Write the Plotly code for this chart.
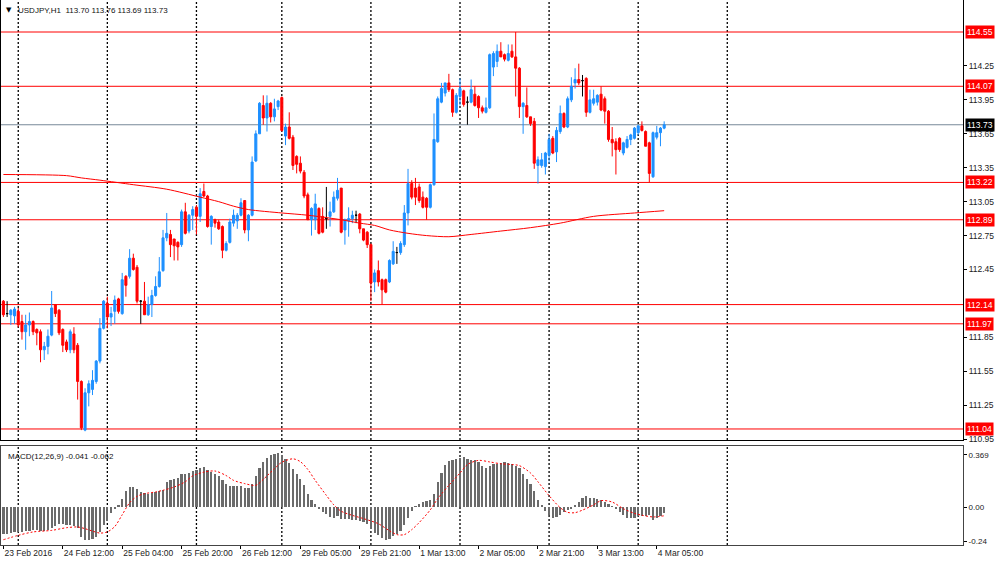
import plotly.graph_objects as go
from plotly.subplots import make_subplots

# ---------------- data ----------------
symbol = "USDJPY,H1"
tick_idx = [0, 16, 32, 48, 64, 80, 96, 112, 128, 144, 160, 176]
tick_text = ["23 Feb 2016", "24 Feb 12:00", "25 Feb 04:00", "25 Feb 20:00", "26 Feb 12:00",
             "29 Feb 05:00", "29 Feb 21:00", "1 Mar 13:00", "2 Mar 05:00", "2 Mar 21:00",
             "3 Mar 13:00", "4 Mar 05:00"]
day_start_idx = [4, 28, 52, 75, 99, 123, 147, 171, 195]

opens = [112.17,112.06,112.05,112.04,112.08,111.99,111.90,111.96,111.99,111.92,
         111.90,111.74,111.77,111.87,112.14,112.09,111.92,111.81,111.74,111.88,
         111.78,111.46,111.03,111.36,111.39,111.46,111.64,111.93,112.15,112.03,
         112.08,112.19,112.06,112.39,112.39,112.55,112.47,112.17,112.17,112.05,
         112.14,112.22,112.30,112.44,112.73,112.76,112.72,112.69,112.67,112.96,
         112.79,112.93,113.00,112.92,113.14,113.10,112.83,112.89,112.87,112.83,
         112.62,112.69,112.86,112.88,112.93,113.06,112.80,112.93,113.41,113.65,
         113.90,113.79,113.92,113.80,113.89,113.97,113.63,113.71,113.62,113.45,
         113.39,113.31,113.11,112.89,112.89,112.99,112.92,112.90,112.92,112.96,
         113.08,113.17,112.80,112.88,112.90,112.93,112.94,112.81,112.78,112.67,
         112.34,112.44,112.36,112.36,112.34,112.50,112.60,112.60,112.67,112.95,
         113.21,113.17,113.18,113.09,113.08,113.00,113.20,113.58,113.93,114.01,
         114.10,114.04,113.84,113.98,114.03,113.93,113.93,114.00,113.98,113.88,
         113.84,113.88,114.24,114.29,114.38,114.35,114.30,114.38,114.33,114.23,
         113.89,113.90,113.80,113.76,113.37,113.37,113.36,113.46,113.61,113.49,
         113.67,113.83,113.71,113.95,114.10,114.13,114.12,114.14,113.84,113.92,
         113.93,114.00,113.96,113.85,113.60,113.58,113.61,113.48,113.53,113.60,
         113.61,113.66,113.72,113.67,113.57,113.27,113.62,113.66,113.70]
highs = [112.18,112.17,112.10,112.12,112.11,112.05,112.05,112.07,112.00,111.93,
         111.92,111.81,111.92,112.26,112.14,112.10,111.93,111.83,111.92,111.94,
         111.80,111.47,111.40,111.47,111.56,111.65,112.02,112.18,112.21,112.12,
         112.22,112.20,112.42,112.40,112.63,112.59,112.49,112.18,112.34,112.21,
         112.27,112.39,112.56,112.80,112.95,112.80,112.72,112.70,112.98,113.04,
         112.94,113.01,113.02,113.17,113.21,113.11,112.93,112.90,112.89,112.84,
         112.70,112.90,112.98,112.95,113.08,113.06,112.94,113.45,113.68,113.93,
         113.99,113.99,113.93,113.96,113.95,113.98,113.74,113.84,113.64,113.46,
         113.45,113.33,113.13,113.00,113.12,113.00,113.00,113.18,113.05,113.14,
         113.26,113.17,112.90,113.00,112.97,112.97,112.95,112.81,112.79,112.68,
         112.45,112.53,112.37,112.37,112.54,112.70,112.65,112.70,113.02,113.34,
         113.24,113.26,113.21,113.14,113.09,113.21,113.83,113.98,114.10,114.10,
         114.18,114.05,114.01,114.14,114.04,113.98,114.13,114.07,113.99,113.90,
         113.97,114.36,114.38,114.44,114.46,114.36,114.44,114.44,114.55,114.24,
         113.93,114.06,113.80,113.79,113.45,113.48,113.49,113.65,113.63,113.71,
         113.90,113.84,113.98,114.15,114.23,114.27,114.17,114.15,114.04,114.04,
         114.00,114.07,113.98,113.86,113.71,113.61,113.62,113.58,113.63,113.65,
         113.71,113.73,113.76,113.68,113.58,113.67,113.72,113.71,113.76]
lows = [112.03,112.03,111.96,111.97,111.94,111.83,111.74,111.86,111.87,111.78,
        111.63,111.65,111.70,111.86,112.03,111.87,111.72,111.72,111.71,111.71,
        111.30,111.03,111.02,111.24,111.34,111.44,111.62,111.92,111.93,111.95,
        111.97,112.06,112.05,112.21,112.37,112.44,112.15,111.97,112.05,112.04,
        112.03,112.21,112.29,112.43,112.70,112.56,112.53,112.53,112.65,112.76,
        112.77,112.80,112.76,112.87,113.09,112.82,112.67,112.82,112.80,112.55,
        112.61,112.68,112.83,112.81,112.92,112.77,112.70,112.92,113.40,113.65,
        113.73,113.67,113.75,113.76,113.86,113.67,113.55,113.60,113.33,113.30,
        113.30,113.08,112.89,112.75,112.80,112.76,112.77,112.81,112.83,112.95,
        113.06,112.77,112.67,112.74,112.86,112.86,112.77,112.70,112.64,112.17,
        112.25,112.30,112.14,112.24,112.33,112.49,112.50,112.58,112.65,112.84,
        113.07,113.02,113.04,112.99,112.89,112.99,113.19,113.57,113.92,113.98,
        114.02,113.80,113.83,113.90,113.89,113.73,113.92,113.89,113.79,113.83,
        113.83,113.87,114.16,114.24,114.33,114.29,114.29,114.32,113.98,113.79,
        113.65,113.79,113.72,113.34,113.21,113.35,113.29,113.39,113.47,113.40,
        113.65,113.70,113.70,113.93,114.05,114.08,113.98,113.80,113.83,113.90,
        113.90,113.85,113.74,113.58,113.45,113.29,113.49,113.46,113.52,113.55,
        113.60,113.64,113.67,113.54,113.22,113.26,113.60,113.54,113.69]
closes = [112.05,112.06,112.09,112.10,111.96,111.90,111.96,111.99,111.90,111.89,
          111.74,111.77,111.86,112.11,112.06,111.89,111.78,111.74,111.90,111.74,
          111.46,111.05,111.36,111.44,111.47,111.64,111.93,112.17,112.03,112.06,
          112.18,112.08,112.36,112.31,112.55,112.45,112.17,112.17,112.05,112.14,
          112.22,112.30,112.43,112.73,112.77,112.67,112.66,112.65,112.96,112.77,
          112.93,112.98,112.92,113.12,113.10,112.83,112.92,112.86,112.81,112.62,
          112.68,112.87,112.93,112.93,113.04,112.80,112.93,113.40,113.65,113.92,
          113.79,113.92,113.80,113.87,113.94,113.68,113.71,113.61,113.37,113.38,
          113.32,113.10,112.89,112.99,113.03,112.77,112.78,112.90,112.96,113.09,
          113.15,112.78,112.89,112.90,112.93,112.93,112.81,112.71,112.67,112.33,
          112.42,112.34,112.27,112.25,112.53,112.61,112.60,112.68,112.95,113.21,
          113.09,113.09,113.06,113.00,113.00,113.20,113.60,113.96,114.05,114.10,
          114.04,113.84,113.99,114.05,113.91,113.93,114.04,113.90,113.88,113.85,
          113.88,114.35,114.36,114.38,114.33,114.31,114.36,114.33,114.23,113.89,
          113.92,113.80,113.74,113.39,113.42,113.42,113.48,113.60,113.48,113.68,
          113.83,113.71,113.96,114.07,114.13,114.10,114.12,113.84,113.95,113.96,
          113.99,113.86,113.85,113.60,113.57,113.51,113.51,113.57,113.60,113.64,
          113.70,113.72,113.68,113.54,113.30,113.66,113.66,113.70,113.73]

ma_idx = [0, 17, 21, 26, 35, 44, 53, 58, 62, 66, 75, 82, 91, 96, 100, 104, 109, 114,
          120, 126, 134, 142, 150, 159, 170, 178]
ma_val = [113.29, 113.28, 113.26, 113.24, 113.20, 113.16, 113.09, 113.05, 113.01, 112.98,
          112.95, 112.93, 112.89, 112.86, 112.84, 112.80, 112.77, 112.75, 112.74, 112.76,
          112.79, 112.82, 112.86, 112.92, 112.95, 112.97]

macd_hist = [-0.193,-0.188,-0.184,-0.179,-0.176,-0.174,-0.169,-0.167,-0.165,-0.165,
             -0.169,-0.169,-0.160,-0.148,-0.134,-0.122,-0.122,-0.129,-0.129,-0.136,
             -0.146,-0.212,-0.231,-0.235,-0.224,-0.212,-0.176,-0.129,-0.099,-0.042,
             -0.012,0.012,0.059,0.113,0.141,0.141,0.129,0.106,0.099,0.094,
             0.099,0.106,0.113,0.122,0.176,0.193,0.200,0.207,0.235,0.235,
             0.240,0.252,0.259,0.273,0.282,0.264,0.247,0.231,0.216,0.188,
             0.160,0.151,0.148,0.146,0.146,0.136,0.136,0.165,0.216,0.278,
             0.318,0.348,0.365,0.372,0.381,0.365,0.341,0.311,0.271,0.235,
             0.200,0.153,0.089,0.047,0.019,-0.012,-0.035,-0.052,-0.071,-0.075,
             -0.066,-0.082,-0.085,-0.087,-0.094,-0.094,-0.099,-0.106,-0.118,-0.153,
             -0.184,-0.200,-0.216,-0.235,-0.226,-0.207,-0.188,-0.169,-0.129,-0.075,
             -0.028,0.002,0.024,0.033,0.040,0.047,0.094,0.176,0.240,0.294,
             0.325,0.329,0.339,0.348,0.353,0.341,0.334,0.329,0.320,0.287,
             0.278,0.287,0.301,0.306,0.311,0.315,0.311,0.306,0.292,0.278,
             0.235,0.200,0.165,0.113,0.052,0.009,-0.028,-0.059,-0.075,-0.071,
             -0.059,-0.038,-0.024,-0.012,0.012,0.035,0.066,0.075,0.066,0.061,
             0.059,0.047,0.033,0.019,0.005,-0.012,-0.033,-0.059,-0.075,-0.080,
             -0.075,-0.066,-0.061,-0.061,-0.059,-0.094,-0.080,-0.066,-0.041]

sig_idx = [0, 4, 8, 13, 17, 20, 22, 24, 26, 28, 30, 32, 34, 36, 38, 41, 43, 46, 49, 51,
           54, 57, 60, 62, 65, 68, 70, 73, 75, 78, 80, 82, 84, 87, 89, 91, 94, 97, 101, 104,
           106, 108, 110, 112, 115, 117, 120, 123, 125, 128, 131, 134, 137, 139, 142, 144,
           147, 150, 152, 154, 156, 159, 161, 164, 167, 170, 172, 175, 178]
sig_val = [-0.231, -0.200, -0.176, -0.165, -0.146, -0.141, -0.153, -0.170, -0.184, -0.176,
           -0.138, -0.055, 0.030, 0.075, 0.094, 0.106, 0.118, 0.141, 0.178, 0.220,
           0.246, 0.254, 0.222, 0.188, 0.165, 0.153, 0.195, 0.270, 0.316, 0.340,
           0.320, 0.265, 0.188, 0.082, 0.015, -0.030, -0.059, -0.082, -0.118, -0.168,
           -0.195, -0.195, -0.160, -0.110, -0.020, 0.059, 0.153, 0.240, 0.300, 0.329,
           0.318, 0.305, 0.300, 0.292, 0.240, 0.178, 0.080, -0.005, -0.038, -0.040,
           -0.022, 0.015, 0.045, 0.035, -0.012, -0.045, -0.058, -0.070, -0.062]

levels = [114.55, 114.07, 113.22, 112.89, 112.14, 111.97, 111.04]
last_price = 113.73
price_ticks = [110.95, 111.25, 111.55, 111.85, 112.45, 112.75, 113.05, 113.35, 113.65, 113.95, 114.25]
macd_ticks = [0.369, 0.0, -0.24]
macd_tick_text = ["0.369", "0.00", "-0.24"]

# ---------------- layout geometry ----------------
W, H = 1000, 564
ML, MR, MT, MB = 1, 37, 0, 19
PW = W - ML - MR
PH = H - MT - MB
FONT = "Liberation Sans, Arial, sans-serif"


def pxx(px):
    return (px - ML) / PW


def pxy(py):
    return (H - MB - py) / PH


fig = make_subplots(rows=2, cols=1, shared_xaxes=True)

xs = list(range(len(opens)))
up = [i for i in xs if closes[i] > opens[i]]
dn = [i for i in xs if closes[i] < opens[i]]
dj = [i for i in xs if closes[i] == opens[i]]


def sub(arr, idx):
    return [arr[i] for i in idx]


for idx, col in ((up, "#1E90FF"), (dn, "#FF0000"), (dj, "#000000")):
    fig.add_trace(go.Candlestick(
        x=idx, open=sub(opens, idx), high=sub(highs, idx), low=sub(lows, idx), close=sub(closes, idx),
        increasing=dict(line=dict(color=col, width=1), fillcolor=col),
        decreasing=dict(line=dict(color=col, width=1), fillcolor=col),
        whiskerwidth=0, showlegend=False, hoverinfo="skip"), row=1, col=1)

fig.add_trace(go.Scatter(x=ma_idx, y=ma_val, mode="lines",
                         line=dict(color="#FF0000", width=1, shape="spline", smoothing=0.8),
                         showlegend=False, hoverinfo="skip"), row=1, col=1)

fig.add_trace(go.Bar(x=xs, y=macd_hist, marker=dict(color="#6b6b6b", line=dict(width=0)),
                     width=0.6, showlegend=False, hoverinfo="skip"), row=2, col=1)
fig.add_trace(go.Scatter(x=sig_idx, y=sig_val, mode="lines",
                         line=dict(color="#FF0000", width=1, dash="2px,2px", shape="spline", smoothing=0.8),
                         showlegend=False, hoverinfo="skip"), row=2, col=1)

shapes = []
for d in day_start_idx:
    for xr, yr in (("x", "y domain"), ("x2", "y2 domain")):
        shapes.append(dict(type="line", xref=xr, yref=yr, x0=d, x1=d, y0=0, y1=1,
                           line=dict(color="black", width=1.3, dash="2px,2px"), layer="below"))
for lv in levels:
    shapes.append(dict(type="line", xref="x domain", yref="y", x0=0, x1=1, y0=lv, y1=lv,
                       line=dict(color="#FF0000", width=1), layer="below"))
shapes.append(dict(type="line", xref="x domain", yref="y", x0=0, x1=1, y0=last_price, y1=last_price,
                   line=dict(color="#778899", width=1), layer="below"))

annotations = []
for lv in levels:
    annotations.append(dict(x=1, xref="paper", y=lv, yref="y", xanchor="left", yanchor="middle",
                            xshift=2, text=f"{lv:.2f}", showarrow=False, bgcolor="#FF0000",
                            font=dict(color="white", size=8.5, family=FONT), borderpad=1))
annotations.append(dict(x=1, xref="paper", y=last_price, yref="y", xanchor="left", yanchor="middle",
                        xshift=2, text=f"{last_price:.2f}", showarrow=False, bgcolor="#000000",
                        font=dict(color="white", size=8.5, family=FONT), borderpad=1))
annotations.append(dict(x=pxx(4), xref="paper", y=pxy(10), yref="paper", xanchor="left", yanchor="middle",
                        text="▼", showarrow=False, font=dict(color="black", size=7, family="DejaVu Sans")))
title = f"{symbol}  {opens[-1]:.2f} {highs[-1]:.2f} {lows[-1]:.2f} {closes[-1]:.2f}"
annotations.append(dict(x=pxx(16), xref="paper", y=pxy(10), yref="paper", xanchor="left", yanchor="middle",
                        text=title, showarrow=False, font=dict(color="#111", size=8, family=FONT)))
annotations.append(dict(x=pxx(6), xref="paper", y=pxy(456), yref="paper", xanchor="left", yanchor="middle",
                        text=f"MACD(12,26,9) {macd_hist[-1]:.3f} {sig_val[-1]:.3f}", showarrow=False,
                        font=dict(color="#111", size=8, family=FONT)))

xrange = [-0.647, 258.5]
fig.update_layout(
    width=W, height=H, margin=dict(l=ML, r=MR, t=MT, b=MB),
    paper_bgcolor="white", plot_bgcolor="white",
    font=dict(family=FONT, size=8.5, color="#222"),
    showlegend=False, boxgap=0.45, boxgroupgap=0, bargap=0,
    shapes=shapes, annotations=annotations,
    xaxis=dict(domain=[0, 1], range=xrange, showgrid=False, zeroline=False, showline=True, mirror=True,
               linecolor="black", linewidth=1, showticklabels=False, ticks="",
               rangeslider=dict(visible=False)),
    xaxis2=dict(domain=[0, 1], range=xrange, showgrid=False, zeroline=False, showline=True, mirror=True,
                linecolor="#444", linewidth=1, tickmode="array", tickvals=tick_idx, ticktext=tick_text,
                ticks="outside", ticklen=3, tickcolor="black", ticklabelposition="outside right",
                tickfont=dict(size=8.5, color="#222"), rangeslider=dict(visible=False)),
    yaxis=dict(domain=[pxy(440), 1], range=[110.9426, 114.833], side="right", showgrid=False,
               zeroline=False, showline=True, mirror=True, linecolor="black", linewidth=1,
               tickmode="array", tickvals=price_ticks, ticktext=[f"{t:.2f}" for t in price_ticks],
               ticks="outside", ticklen=3, tickcolor="black", tickfont=dict(size=8.5, color="#222")),
    yaxis2=dict(domain=[0, pxy(446)], range=[-0.2682, 0.4305], side="right", showgrid=False,
                zeroline=False, showline=True, mirror=True, linecolor="#444", linewidth=1,
                tickmode="array", tickvals=macd_ticks, ticktext=macd_tick_text,
                ticks="outside", ticklen=3, tickcolor="black", tickfont=dict(size=8, color="#222")),
)

fig.write_html("out.html", config={"displayModeBar": False},
               post_script="document.body.style.margin='0';document.body.style.overflow='hidden';")
